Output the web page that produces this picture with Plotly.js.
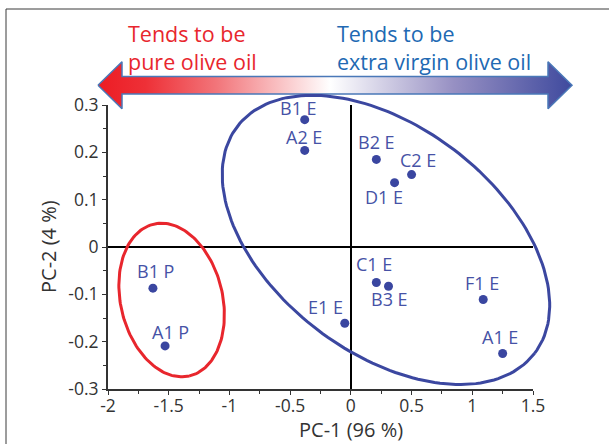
<!DOCTYPE html>
<html>
<head>
<meta charset="utf-8">
<script src="https://cdn.plot.ly/plotly-3.0.1.min.js"></script>
<style>html,body{margin:0;padding:0;background:#fff;}#chart{width:609px;height:444px;}</style>
</head>
<body>
<div id="chart"></div>
<script>
// ---- data ----
const sampleLabels = ['B1 E','A2 E','B2 E','C2 E','D1 E','C1 E','B3 E','F1 E','A1 E','E1 E','B1 P','A1 P'];
const pc1 = [-0.38, -0.38, 0.21, 0.50, 0.36, 0.21, 0.31, 1.09, 1.25, -0.05, -1.63, -1.53];
const pc2 = [0.269, 0.204, 0.185, 0.153, 0.136, -0.075, -0.083, -0.111, -0.225, -0.161, -0.087, -0.209];
const xTickVals = [-2, -1.5, -1, -0.5, 0, 0.5, 1, 1.5];
const xTickText = ['-2', '-1.5', '-1', '-0.5', '0', '0.5', '1', '1.5'];
const yTickVals = [-0.3, -0.2, -0.1, 0, 0.1, 0.2, 0.3];
const yTickText = ['-0.3', '-0.2', '-0.1', '0', '0.1', '0.2', '0.3'];
const leftHeading = 'Tends to be<br>pure olive oil';
const rightHeading = 'Tends to be<br>extra virgin olive oil';

// ---- layout constants (pixels) ----
const FW = 609, FH = 444;
const PL = 108, PR = 533, PT = 105, PB = 389;
const XR = [-2, 1.5], YR = [-0.3, 0.3];
const xpx = x => PL + (x - XR[0]) / (XR[1] - XR[0]) * (PR - PL);
const ypx = y => PT + (YR[1] - y) / (YR[1] - YR[0]) * (PB - PT);

// label offsets in px (dx right, dy down)
const labelOffsets = [[-6,-12],[-1,-13],[0,-17],[6,-15],[-11,14],[-2,-19],[1,13],[-1,-17],[-3,-17],[-19,-16],[3,-17],[5,-14]];

// ellipse outline: center in data units, semi-axes px, angle deg (screen)
function ellipse(cxD, cyD, a, b, phiDeg) {
  const cx = xpx(cxD), cy = ypx(cyD), p = phiDeg * Math.PI / 180;
  const xs = [], ys = [];
  for (let i = 0; i <= 180; i++) {
    const t = i / 180 * 2 * Math.PI;
    const u = a * Math.cos(t), v = b * Math.sin(t);
    xs.push(cx + u * Math.cos(p) - v * Math.sin(p));
    ys.push(cy + u * Math.sin(p) + v * Math.cos(p));
  }
  return {xs, ys};
}
const redEl = ellipse(-1.476, -0.112, 78, 51, 76.7);
const blueEl = ellipse(0.289, 0.015, 187, 113, 37.3);

// double arrow
function dblArrow(x0, x1, yc, sh, hh, hl) {
  const xs = [x0, x0+hl, x0+hl, x1-hl, x1-hl, x1, x1-hl, x1-hl, x0+hl, x0+hl, x0];
  const ys = [yc, yc-hh, yc-sh, yc-sh, yc-hh, yc, yc+hh, yc+sh, yc+sh, yc+hh, yc];
  return {xs, ys};
}
const arr = dblArrow(98, 572, 85.3, 8.8, 23.5, 24);

const traces = [
  {
    x: pc1, y: pc2, type: 'scatter', mode: 'markers', xaxis: 'x', yaxis: 'y',
    marker: {color: '#3a46a0', size: 9}, cliponaxis: false, hoverinfo: 'skip'
  },
  {
    x: arr.xs, y: arr.ys, type: 'scatter', mode: 'lines', xaxis: 'x2', yaxis: 'y2',
    fill: 'toself',
    fillgradient: {type: 'horizontal', colorscale: [[0,'#ec1c24'],[0.1,'#ee3037'],[0.25,'#f2757a'],[0.49,'#ffffff'],[0.75,'#9790c3'],[1,'#3f4a9e']]},
    line: {color: '#4a78b8', width: 1.5}, hoverinfo: 'skip'
  },
  {
    x: redEl.xs, y: redEl.ys, type: 'scatter', mode: 'lines', xaxis: 'x2', yaxis: 'y2',
    line: {color: '#e8262d', width: 3}, hoverinfo: 'skip'
  },
  {
    x: blueEl.xs, y: blueEl.ys, type: 'scatter', mode: 'lines', xaxis: 'x2', yaxis: 'y2',
    line: {color: '#3b47a0', width: 3}, hoverinfo: 'skip'
  }
];

const FONT = '"Open Sans", "Noto Sans", sans-serif';
const annotations = sampleLabels.map((t, i) => ({
  x: pc1[i], y: pc2[i], xref: 'x', yref: 'y', text: t, showarrow: false,
  xshift: labelOffsets[i][0], yshift: -labelOffsets[i][1],
  font: {family: FONT, size: 18, color: '#4652a6'}
}));
annotations.push({x: 126, y: 47, xref: 'x2', yref: 'y2', text: leftHeading, showarrow: false, align: 'left',
  xanchor: 'left', yanchor: 'middle', font: {family: FONT, size: 21.5, color: '#e8262d'}});
annotations.push({x: 335, y: 47, xref: 'x2', yref: 'y2', text: rightHeading, showarrow: false, align: 'left',
  xanchor: 'left', yanchor: 'middle', font: {family: FONT, size: 21.5, color: '#2169b3'}});
annotations.push({x: 351, y: 429.5, xref: 'x2', yref: 'y2', text: 'PC-1 (96 %)', showarrow: false,
  xanchor: 'center', yanchor: 'middle', font: {family: FONT, size: 20, color: '#333'}});
annotations.push({x: 48, y: 247, xref: 'x2', yref: 'y2', text: 'PC-2 (4 %)', showarrow: false, textangle: -90,
  xanchor: 'center', yanchor: 'middle', font: {family: FONT, size: 20, color: '#333'}});

const layout = {
  width: FW, height: FH,
  margin: {l: 0, r: 0, t: 0, b: 0, pad: 0},
  paper_bgcolor: '#ffffff', plot_bgcolor: 'rgba(0,0,0,0)',
  showlegend: false,
  font: {family: FONT, size: 18, color: '#333'},
  xaxis: {
    domain: [PL / FW, PR / FW], range: XR, anchor: 'y',
    showline: true, linecolor: '#333', linewidth: 2, mirror: false,
    ticks: 'outside', ticklen: 4, tickwidth: 1, tickcolor: '#333',
    ticklabelstandoff: -4,
    tickvals: xTickVals, ticktext: xTickText,
    minor: {tickvals: [-1.75,-1.25,-0.75,-0.25,0.25,0.75,1.25], ticks: 'outside', ticklen: 3, tickcolor: '#333'},
    showgrid: false, zeroline: true, zerolinecolor: '#000', zerolinewidth: 1.5,
    tickfont: {family: FONT, size: 17.5, color: '#333'}, automargin: false, fixedrange: true
  },
  yaxis: {
    domain: [1 - PB / FH, 1 - PT / FH], range: YR, anchor: 'x',
    showline: true, linecolor: '#333', linewidth: 2,
    ticks: 'outside', ticklen: 4, tickwidth: 1, tickcolor: '#333',
    tickvals: yTickVals, ticktext: yTickText,
    minor: {tickvals: [-0.25,-0.15,-0.05,0.05,0.15,0.25], ticks: 'outside', ticklen: 3, tickcolor: '#333'},
    showgrid: false, zeroline: true, zerolinecolor: '#000', zerolinewidth: 1.5,
    tickfont: {family: FONT, size: 17.5, color: '#333'}, automargin: false, fixedrange: true
  },
  xaxis2: {domain: [0, 1], range: [0, FW], anchor: 'y2', visible: false, fixedrange: true},
  yaxis2: {domain: [0, 1], range: [FH, 0], anchor: 'x2', visible: false, fixedrange: true},
  annotations: annotations,
  shapes: [{type: 'rect', xref: 'paper', yref: 'paper', x0: 6 / FW, x1: 1.1, y0: -0.1, y1: 1 - 9 / FH,
    line: {color: '#3a3a3a', width: 1}, fillcolor: 'rgba(0,0,0,0)', layer: 'below'}]
};

Plotly.newPlot('chart', traces, layout, {displayModeBar: false, staticPlot: true});
</script>
</body>
</html>
